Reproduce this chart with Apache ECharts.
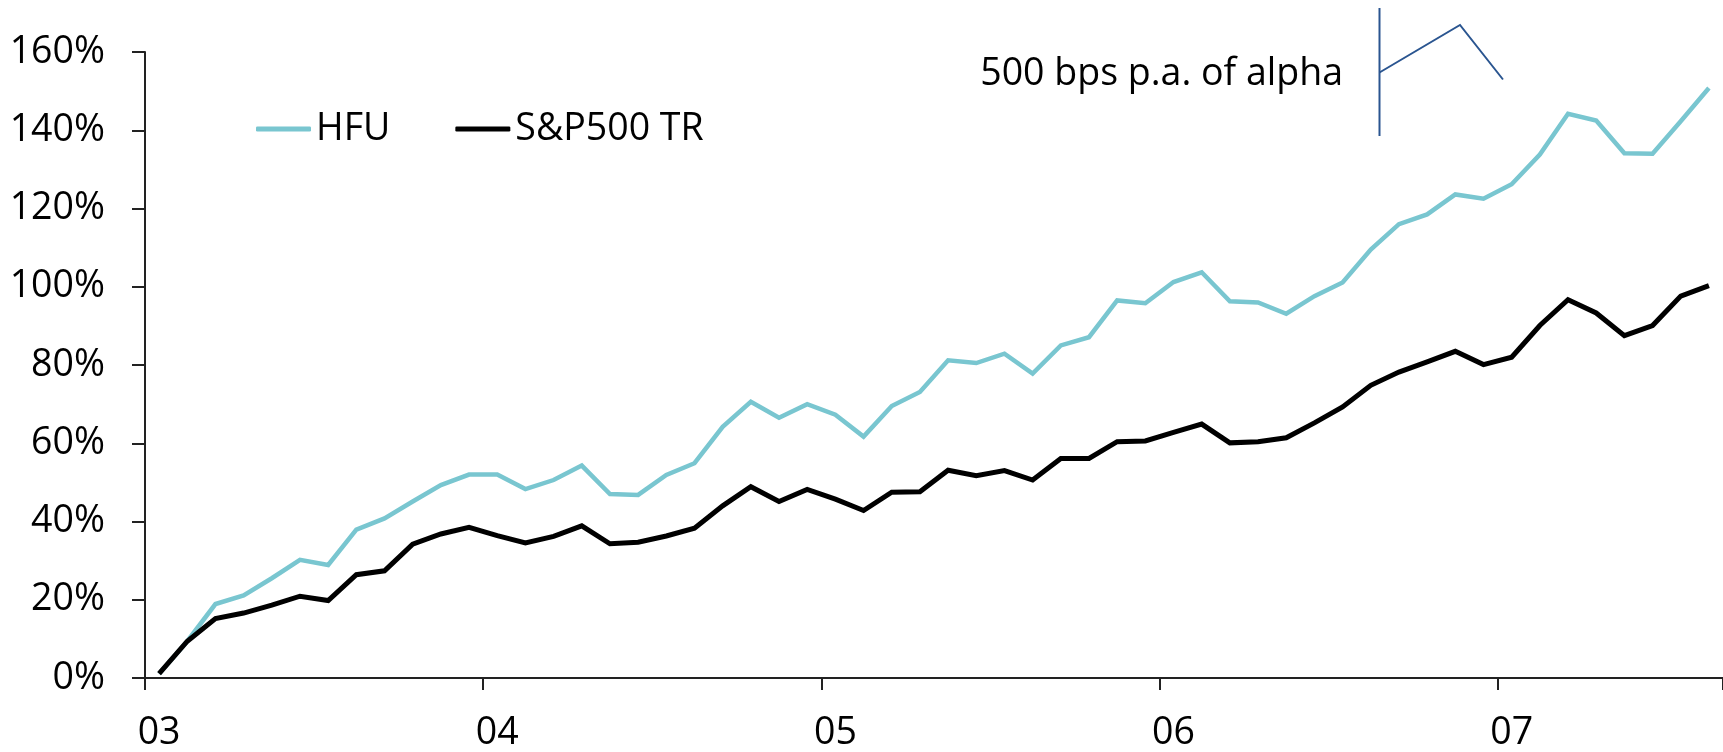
<!DOCTYPE html>
<html>
<head>
<meta charset="utf-8">
<title>HFU vs S&amp;P500 TR</title>
<script src="https://cdn.jsdelivr.net/npm/echarts@6/dist/echarts.min.js"></script>
<style>
  html, body { margin: 0; padding: 0; background: #ffffff; }
  #chart { width: 1723px; height: 752px; }
</style>
</head>
<body>
<div id="chart"></div>
<script>
// Monthly observations, Jan 2003 - Aug 2007
const months = [
  '2003-01','2003-02','2003-03','2003-04','2003-05','2003-06','2003-07','2003-08','2003-09','2003-10','2003-11','2003-12',
  '2004-01','2004-02','2004-03','2004-04','2004-05','2004-06','2004-07','2004-08','2004-09','2004-10','2004-11','2004-12',
  '2005-01','2005-02','2005-03','2005-04','2005-05','2005-06','2005-07','2005-08','2005-09','2005-10','2005-11','2005-12',
  '2006-01','2006-02','2006-03','2006-04','2006-05','2006-06','2006-07','2006-08','2006-09','2006-10','2006-11','2006-12',
  '2007-01','2007-02','2007-03','2007-04','2007-05','2007-06','2007-07','2007-08'
];

// Cumulative return, %
const hfu = [
  1.1, 9.4, 18.9, 21.1, 25.5, 30.2, 28.9, 37.9, 40.8, 45.1, 49.3, 52.0,
  52.0, 48.3, 50.6, 54.3, 47.0, 46.8, 51.9, 54.9, 64.2, 70.6, 66.5, 70.0,
  67.3, 61.7, 69.5, 73.1, 81.2, 80.5, 82.9, 77.8, 85.0, 87.1, 96.5, 95.8,
  101.2, 103.7, 96.3, 96.0, 93.1, 97.6, 101.1, 109.5, 116.0, 118.5, 123.6, 122.5,
  126.2, 133.8, 144.2, 142.5, 134.1, 134.0, 142.3, 150.8
];

const sp500tr = [
  1.1, 9.4, 15.2, 16.6, 18.6, 20.9, 19.8, 26.4, 27.4, 34.2, 36.8, 38.5,
  36.4, 34.5, 36.2, 38.9, 34.3, 34.7, 36.3, 38.3, 44.0, 48.9, 45.1, 48.2,
  45.7, 42.8, 47.5, 47.6, 53.1, 51.7, 53.0, 50.6, 56.1, 56.1, 60.4, 60.6,
  62.8, 64.9, 60.1, 60.4, 61.4, 65.2, 69.3, 74.8, 78.2, 80.8, 83.5, 80.1,
  82.0, 90.1, 96.7, 93.3, 87.5, 90.1, 97.6, 100.3
];

const seriesNames = ['HFU', 'S&P500 TR'];
const yTicks = { min: 0, max: 160, step: 20 };
const noteText = '500 bps p.a. of alpha';

const FONT = '"Open Sans", "Noto Sans", sans-serif';
const FONT_SIZE = 37.5;
const TEAL = '#79C6D0';
const INK = '#000000';
const AXIS = '#222222';
const NOTE = '#2A5590';

const chart = echarts.init(document.getElementById('chart'), null, { renderer: 'canvas' });

chart.setOption({
  backgroundColor: '#ffffff',
  animation: false,
  textStyle: { fontFamily: FONT },
  grid: { left: 145, right: -2, top: 52, bottom: 72, containLabel: false },
  legend: {
    left: 251,
    top: 105,
    itemWidth: 55,
    itemHeight: 5,
    itemGap: 65,
    icon: 'roundRect',
    textStyle: { fontFamily: FONT, fontSize: FONT_SIZE, color: '#000' },
    data: seriesNames
  },
  xAxis: {
    type: 'category',
    data: months,
    boundaryGap: true,
    axisLine: { lineStyle: { color: AXIS, width: 2 } },
    axisTick: { show: true, interval: 11, length: 12, lineStyle: { color: AXIS, width: 2 } },
    axisLabel: {
      interval: 11,
      margin: 36,
      fontFamily: FONT,
      fontSize: FONT_SIZE,
      color: '#000',
      formatter: v => v.slice(2, 4)
    },
    splitLine: { show: false }
  },
  yAxis: {
    type: 'value',
    min: yTicks.min,
    max: yTicks.max,
    interval: yTicks.step,
    axisLine: { show: true, lineStyle: { color: AXIS, width: 2 } },
    axisTick: { show: true, length: 13, lineStyle: { color: AXIS, width: 2 } },
    axisLabel: {
      margin: 40,
      fontFamily: FONT,
      fontSize: FONT_SIZE,
      color: '#000',
      formatter: '{value}%'
    },
    splitLine: { show: false }
  },
  series: [
    {
      name: seriesNames[0],
      type: 'line',
      data: hfu,
      symbol: 'none',
      itemStyle: { color: TEAL },
      lineStyle: { color: TEAL, width: 4.5, join: 'miter' },
      z: 2
    },
    {
      name: seriesNames[1],
      type: 'line',
      data: sp500tr,
      symbol: 'none',
      itemStyle: { color: INK },
      lineStyle: { color: INK, width: 5, join: 'miter' },
      z: 3
    }
  ],
  graphic: [
    {
      type: 'text',
      x: 1343,
      y: 74,
      style: {
        text: noteText,
        fontFamily: FONT,
        fontSize: FONT_SIZE,
        fill: '#000',
        align: 'right',
        verticalAlign: 'middle'
      }
    },
    {
      type: 'line',
      shape: { x1: 1379.5, y1: 8, x2: 1379.5, y2: 136 },
      style: { stroke: NOTE, lineWidth: 2 }
    },
    {
      type: 'polyline',
      shape: { points: [[1379.5, 72.5], [1460, 25], [1503, 79.5]] },
      style: { stroke: NOTE, lineWidth: 2, fill: null }
    }
  ]
});
</script>
</body>
</html>
